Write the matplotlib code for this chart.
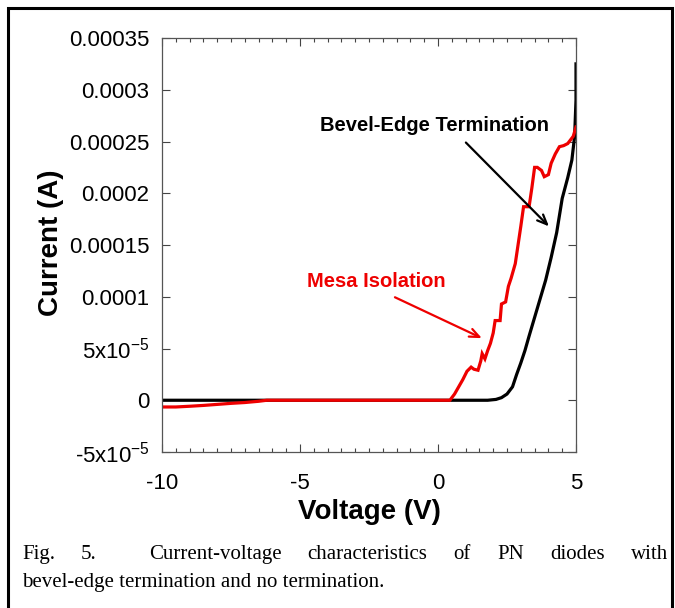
import matplotlib
matplotlib.use("Agg")
import matplotlib.pyplot as plt
from matplotlib.ticker import FixedLocator, FixedFormatter, MultipleLocator
from matplotlib.patches import Rectangle

plt.rcParams['font.family'] = ['Liberation Sans', 'DejaVu Sans']
plt.rcParams['mathtext.fontset'] = 'custom'
plt.rcParams['mathtext.rm'] = 'Liberation Sans'
plt.rcParams['mathtext.default'] = 'regular'
plt.rcParams['axes.unicode_minus'] = False

# ---- data ----
bevel_v = [-10, 1.8, 2.1, 2.3, 2.5, 2.7, 2.85, 3.0, 3.15, 3.3, 3.5, 3.7, 3.9,
           4.1, 4.3, 4.5, 4.7, 4.85, 4.95, 5.0, 5.0]
bevel_i = [0, 0, 0.8e-6, 2.5e-6, 6e-6, 1.3e-5, 2.5e-5, 3.6e-5, 4.8e-5, 6.2e-5,
           8.0e-5, 9.8e-5, 1.16e-4, 1.38e-4, 1.62e-4, 1.95e-4, 2.15e-4,
           2.32e-4, 2.55e-4, 2.9e-4, 3.25e-4]

mesa_v = [-10, -9.5, -9.0, -8.5, -8.0, -7.5, -7.0, -6.5, -6.2, 0.43, 0.6, 0.75,
          0.9, 1.05, 1.2, 1.3, 1.45, 1.55, 1.6, 1.7, 1.8, 1.9, 2.0, 2.07, 2.25,
          2.3, 2.45, 2.55, 2.65, 2.8, 2.9, 3.0, 3.1, 3.3, 3.4, 3.5, 3.6, 3.75,
          3.85, 4.0, 4.1, 4.25, 4.4, 4.55, 4.7, 4.9, 5.0]
mesa_i = [-6.5e-6, -6.5e-6, -5.8e-6, -5.0e-6, -4.0e-6, -3.0e-6, -2.2e-6, -1.0e-6,
          0, 0, 6e-6, 1.3e-5, 2.0e-5, 2.8e-5, 3.2e-5, 3.0e-5, 2.9e-5, 3.8e-5,
          4.5e-5, 4.0e-5, 4.8e-5, 5.5e-5, 6.5e-5, 7.7e-5, 7.7e-5, 9.3e-5, 9.5e-5,
          1.1e-4, 1.18e-4, 1.32e-4, 1.5e-4, 1.68e-4, 1.87e-4, 1.87e-4, 2.05e-4,
          2.25e-4, 2.25e-4, 2.22e-4, 2.16e-4, 2.18e-4, 2.29e-4, 2.38e-4, 2.45e-4,
          2.46e-4, 2.48e-4, 2.55e-4, 2.64e-4]

x_ticks = [-10, -5, 0, 5]
x_tick_labels = ['-10', '-5', '0', '5']
y_ticks = [-5e-5, 0, 5e-5, 1e-4, 1.5e-4, 2e-4, 2.5e-4, 3e-4, 3.5e-4]
y_tick_labels = ['-5x10$^{-5}$', '0', '5x10$^{-5}$', '0.0001', '0.00015',
                 '0.0002', '0.00025', '0.0003', '0.00035']

caption_lines = ["Fig. 5.  Current-voltage characteristics of PN diodes with",
                 "bevel-edge termination and no termination."]

RED = '#ee0000'
W, H = 675, 608
fig = plt.figure(figsize=(W / 100, H / 100), dpi=100)
ax = fig.add_axes([162 / W, 1 - 452 / H, 414 / W, 414 / H])

ax.plot(bevel_v, bevel_i, color='black', lw=2.3, solid_joinstyle='miter')
ax.plot(mesa_v, mesa_i, color=RED, lw=2.3, solid_joinstyle='miter')

ax.set_xlim(-10, 5)
ax.set_ylim(-5e-5, 3.5e-4)
ax.xaxis.set_major_locator(FixedLocator(x_ticks))
ax.xaxis.set_major_formatter(FixedFormatter(x_tick_labels))
ax.xaxis.set_minor_locator(MultipleLocator(0.5))
ax.yaxis.set_major_locator(FixedLocator(y_ticks))
ax.yaxis.set_major_formatter(FixedFormatter(y_tick_labels))

ax.tick_params(which='both', direction='in', top=True, right=True,
               color='#444444', width=0.8)
ax.tick_params(which='major', length=6, labelsize=16)
ax.tick_params(axis='y', which='major', pad=9)
ax.tick_params(axis='x', which='major', pad=15)
ax.tick_params(which='minor', length=3)
for s in ax.spines.values():
    s.set_color('#555555')
    s.set_linewidth(0.9)

ax.set_xlabel('Voltage (V)', fontsize=20, fontweight='bold')
ax.set_ylabel('Current (A)', fontsize=20, fontweight='bold')
ax.xaxis.set_label_coords(0.5, -0.113)
ax.yaxis.set_label_coords(-0.237, 0.505)

ax.annotate('', xy=(4.02, 1.68e-4), xytext=(1.01, 2.49e-4),
            arrowprops=dict(arrowstyle='->,head_length=0.7,head_width=0.3',
                            color='black', lw=1.6, shrinkA=0, shrinkB=0))
ax.text(-0.11, 2.65e-4, 'Bevel-Edge Termination', fontsize=14.5,
        fontweight='bold', ha='center', va='center', color='black')
ax.annotate('', xy=(1.59, 6.0e-5), xytext=(-1.56, 9.95e-5),
            arrowprops=dict(arrowstyle='->,head_length=0.7,head_width=0.3',
                            color=RED, lw=1.6, shrinkA=0, shrinkB=0))
ax.text(-2.25, 1.15e-4, 'Mesa Isolation', fontsize=14.5,
        fontweight='bold', ha='center', va='center', color=RED)

# figure frame
fig.patches.append(Rectangle((8 / W, -0.05), (672 - 8) / W, (1 - 8 / H) + 0.05,
                             transform=fig.transFigure, fill=False,
                             edgecolor='black', lw=2.2))

# caption: first line justified (word spacing), second left-aligned
renderer = fig.canvas.get_renderer()
cap_font = dict(family='Liberation Serif', fontsize=15)
left_px, right_px = 22, 668
y1 = 1 - 559 / H
y2 = 1 - 587 / H
tokens = caption_lines[0].split(' ')          # empty token marks double space
words = [t for t in tokens if t]
n_spaces = len(tokens) - 1
texts = [fig.text(0, y1, w_, va='baseline', **cap_font) for w_ in words]
widths = [t.get_window_extent(renderer).width for t in texts]
space = (right_px - left_px - sum(widths)) / n_spaces
xpos = left_px
wi = 0
for tok in tokens:
    if tok:
        texts[wi].set_x(xpos / W)
        xpos += widths[wi] + space
        wi += 1
    else:
        xpos += space
fig.text(left_px / W, y2, caption_lines[1], va='baseline', **cap_font)

fig.savefig('out.png', dpi=100)
